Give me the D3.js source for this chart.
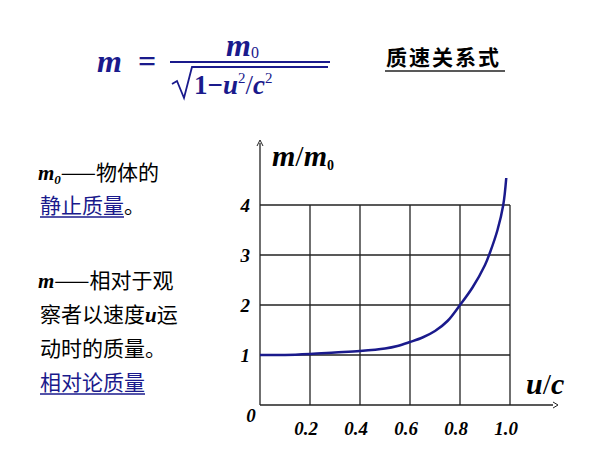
<!DOCTYPE html>
<html><head><meta charset="utf-8">
<script src="https://cdn.jsdelivr.net/npm/d3@7"></script>
<style>body{margin:0;background:#fff}svg{display:block}</style>
</head><body><svg id="c" width="600" height="450"></svg>
<script>
// curve: u/c and m/m0
var uValues = [0, 0.1, 0.2, 0.3, 0.4, 0.5, 0.55, 0.6, 0.65, 0.7, 0.75, 0.8, 0.85, 0.9, 0.92, 0.95, 0.973, 0.985];
var mValues = [1, 1.0, 1.02, 1.05, 1.08, 1.13, 1.18, 1.26, 1.35, 1.48, 1.68, 2.0, 2.35, 2.8, 3.05, 3.5, 4.0, 4.54];
var xTicks = ["0.2", "0.4", "0.6", "0.8", "1.0"];
var yTicks = [1, 2, 3, 4];

var svg = d3.select("#c");
var x = d3.scaleLinear().domain([0, 1]).range([260, 510]);
var y = d3.scaleLinear().domain([0, 4]).range([405, 205]);
var serif = "'Liberation Serif','Times New Roman',serif";
var cjk = "'Noto Sans CJK SC',sans-serif";
var blue = "#1a1a8c";

// grid
var g = svg.append("g").attr("stroke", "#222").attr("stroke-width", 1.3);
[0.2, 0.4, 0.6, 0.8, 1.0].forEach(function(v) {
  g.append("line").attr("x1", x(v)).attr("x2", x(v)).attr("y1", y(0)).attr("y2", y(4));
});
yTicks.forEach(function(v) {
  g.append("line").attr("x1", x(0)).attr("x2", x(1)).attr("y1", y(v)).attr("y2", y(v));
});
g.append("line").attr("x1", x(0)).attr("x2", 553).attr("y1", y(0)).attr("y2", y(0));
g.append("line").attr("x1", x(0)).attr("x2", x(0)).attr("y1", y(0)).attr("y2", 143);
svg.append("path").attr("d", "M553,402 L558,405 L553,408").attr("fill", "none").attr("stroke", "#222");
svg.append("path").attr("d", "M257,146 L260,140 L263,146").attr("fill", "none").attr("stroke", "#222");

var pts = uValues.map(function(u, i) { return [u, mValues[i]]; });
svg.append("path").datum(pts)
  .attr("d", d3.line().x(function(d) { return x(d[0]); }).y(function(d) { return y(d[1]); }).curve(d3.curveCatmullRom))
  .attr("fill", "none").attr("stroke", blue).attr("stroke-width", 2.5);

var lbl = svg.append("g").attr("font-family", serif).attr("font-style", "italic").attr("font-weight", "bold").attr("font-size", 19);
xTicks.forEach(function(t) {
  lbl.append("text").attr("x", x(+t) - 4).attr("y", 435).attr("text-anchor", "middle").text(t);
});
yTicks.forEach(function(v) {
  lbl.append("text").attr("x", 250).attr("y", y(v) + 7).attr("text-anchor", "end").text(v);
});
lbl.append("text").attr("x", 251).attr("y", 422).attr("text-anchor", "middle").text("0");

var big = svg.append("g").attr("font-family", serif).attr("font-style", "italic").attr("font-weight", "bold").attr("font-size", 30);
big.append("text").attr("x", 272).attr("y", 166).html("m<tspan font-style='normal' font-weight='normal'>/</tspan>m<tspan font-size='14' font-style='normal' dy='4'>0</tspan>");
big.append("text").attr("x", 526).attr("y", 394).html("u<tspan font-style='normal' font-weight='normal'>/</tspan>c");

// formula
var f = svg.append("g").attr("font-family", serif).attr("font-style", "italic").attr("font-weight", "bold").attr("fill", blue);
f.append("text").attr("x", 97).attr("y", 72).attr("font-size", 32).text("m");
f.append("text").attr("x", 138).attr("y", 72).attr("font-size", 32).attr("font-style", "normal").text("=");
f.append("text").attr("x", 226).attr("y", 56).attr("font-size", 32).html("m<tspan font-size='16' font-style='normal' font-weight='normal' dy='2'>0</tspan>");
svg.append("line").attr("x1", 170).attr("x2", 330).attr("y1", 62).attr("y2", 62).attr("stroke", blue).attr("stroke-width", 1.8);
svg.append("path").attr("d", "M172,84 L177,81 L184,98 L192,67 L328,67").attr("fill", "none").attr("stroke", blue).attr("stroke-width", 1.8);
f.append("text").attr("x", 194).attr("y", 94).attr("font-size", 27).html("<tspan font-style='normal'>1−</tspan>u<tspan font-size='15' font-style='normal' font-weight='normal' dy='-11'>2</tspan><tspan dy='11' font-style='normal' font-weight='normal'>/</tspan>c<tspan font-size='15' font-style='normal' font-weight='normal' dy='-11'>2</tspan>");

svg.append("text").attr("x", 386).attr("y", 65).attr("font-family", cjk).attr("font-weight", "bold").attr("font-size", 21).attr("letter-spacing", 2).text("质速关系式");
svg.append("line").attr("x1", 385).attr("x2", 505).attr("y1", 71).attr("y2", 71).attr("stroke", "#222").attr("stroke-width", 1.6);

// left notes
var t = svg.append("g").attr("font-family", cjk).attr("font-size", 21);
t.append("text").attr("x", 38).attr("y", 180).html("<tspan font-family=\"'Liberation Serif'\" font-style='italic' font-weight='bold'>m<tspan font-size='13' dy='4'>0</tspan></tspan><tspan dy='-4'>——物体的</tspan>");
var s1 = t.append("text").attr("x", 40).attr("y", 213).attr("fill", blue).text("静止质量");
t.append("text").attr("x", 40 + s1.node().getComputedTextLength()).attr("y", 213).text("。");
t.append("text").attr("x", 38).attr("y", 288).html("<tspan font-family=\"'Liberation Serif'\" font-style='italic' font-weight='bold'>m</tspan>——相对于观");
t.append("text").attr("x", 40).attr("y", 322).html("察者以速度<tspan font-family=\"'Liberation Serif'\" font-style='italic' font-weight='bold'>u</tspan>运");
t.append("text").attr("x", 40).attr("y", 356).text("动时的质量。");
var s2 = t.append("text").attr("x", 40).attr("y", 390).attr("fill", blue).text("相对论质量");
[[s1, 217], [s2, 394]].forEach(function(l) {
  svg.append("line").attr("x1", 40).attr("x2", 40 + l[0].node().getComputedTextLength()).attr("y1", l[1]).attr("y2", l[1]).attr("stroke", blue).attr("stroke-width", 1.3);
});
</script></body></html>
